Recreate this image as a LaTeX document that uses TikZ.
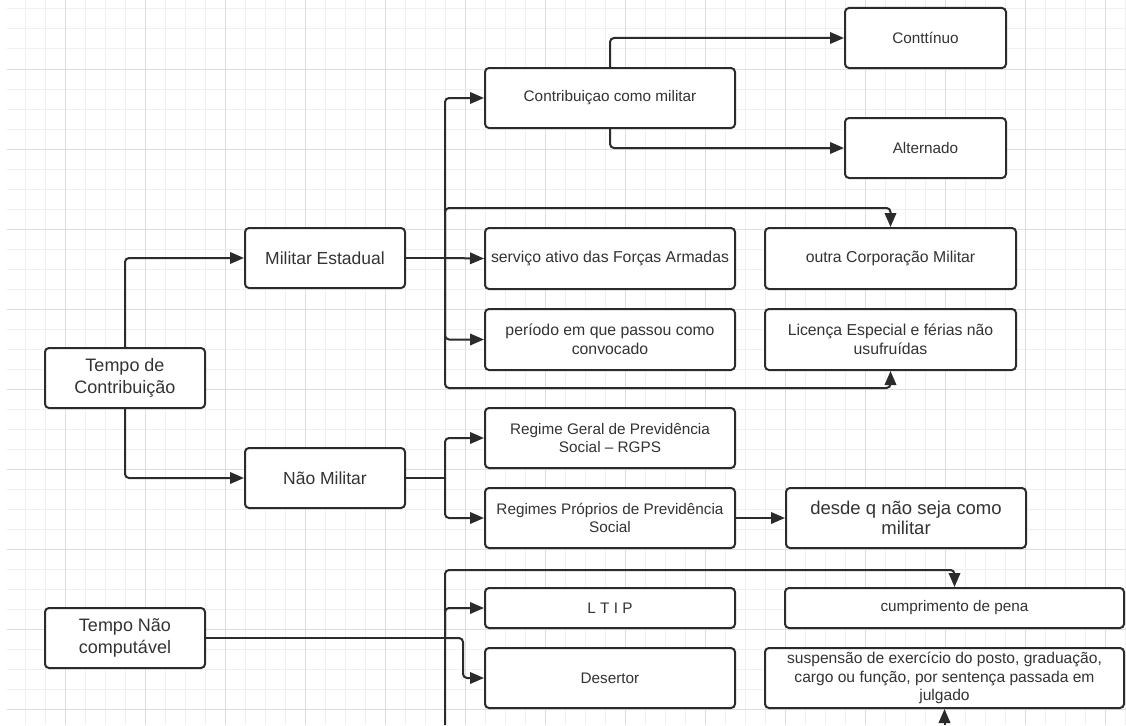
\documentclass[tikz,border=0pt]{standalone}
\usepackage{fontspec}
\setmainfont{Liberation Sans}
\usetikzlibrary{arrows.meta}
\definecolor{ink}{HTML}{2B2B2B}
\definecolor{txt}{HTML}{333333}
\definecolor{gminor}{HTML}{F0F0F0}
\definecolor{gmajor}{HTML}{DEDEDE}
\begin{document}
\begin{tikzpicture}[x=1pt,y=-1pt,
  box/.style={draw=ink, line width=2pt, rounded corners=4pt, fill=white, align=center,
    inner sep=0pt, text=txt, font=\fontsize{15.3}{18.5}\selectfont},
  midbox/.style={box, font=\fontsize{15.8}{18.5}\selectfont},
  bigbox/.style={box, font=\fontsize{18}{22}\selectfont},
  conn/.style={draw=ink, line width=2pt, rounded corners=4pt, -{Triangle[length=14pt,width=11.5pt]}},
  wire/.style={draw=ink, line width=2pt, rounded corners=4pt},
  gmin/.style={draw=gminor, line width=1pt},
  gmaj/.style={draw=gmajor, line width=1pt}]
\useasboundingbox (0,0) rectangle (1126,725);
\fill[white] (0,0) rectangle (1126,725);
% grid
\foreach \x in {25,45,...,1125} \draw[gmin] (\x,0) -- (\x,725);
\foreach \y in {9,29,...,720} \draw[gmin] (7,\y) -- (1126,\y);
\foreach \x in {65,145,...,1125} \draw[gmaj] (\x,0) -- (\x,725);
\foreach \y in {69,149,...,720} \draw[gmaj] (7,\y) -- (1126,\y);

% nodes
\node[bigbox, minimum width=160pt, minimum height=60pt] (tc) at (125,378) {Tempo de\\Contribuição};
\node[box, font=\fontsize{17.5}{20}\selectfont, minimum width=160pt, minimum height=60pt] (me) at (325,258) {Militar Estadual};
\node[box, font=\fontsize{17.5}{20}\selectfont, minimum width=160pt, minimum height=60pt] (nm) at (325,478) {Não Militar};
\node[bigbox, minimum width=160pt, minimum height=60pt] (tn) at (125,638) {Tempo Não\\computável};
\node[box, minimum width=250pt, minimum height=60pt] (cm) at (610,98) {Contribuiçao como militar};
\node[box, minimum width=161pt, minimum height=60pt] (ct) at (925.5,38) {Conttínuo};
\node[box, minimum width=161pt, minimum height=60pt] (al) at (925.5,148) {Alternado};
\node[midbox, minimum width=250pt, minimum height=61pt] (sa) at (610,258.5) {serviço ativo das Forças Armadas};
\node[midbox, minimum width=251pt, minimum height=61pt] (oc) at (890.5,258.5) {outra Corporação Militar};
\node[midbox, minimum width=250pt, minimum height=61pt] (pe) at (610,339.5) {período em que passou como\\convocado};
\node[midbox, minimum width=251pt, minimum height=61pt] (le) at (890.5,339.5) {Licença Especial e férias não\\usufruídas};
\node[box, minimum width=250pt, minimum height=60pt] (rg) at (610,438) {Regime Geral de Previdência\\Social – RGPS};
\node[box, minimum width=250pt, minimum height=60pt] (rp) at (610,518) {Regimes Próprios de Previdência\\Social};
\node[box, font=\fontsize{18.5}{20.5}\selectfont, minimum width=240pt, minimum height=60pt] (dq) at (906,518) {desde q não seja como\\militar};
\node[box, minimum width=250pt, minimum height=40pt] (lt) at (610,608) {L T I P};
\node[box, minimum width=339pt, minimum height=40pt] (cp) at (954.5,608) {cumprimento de pena};
\node[box, minimum width=250pt, minimum height=60pt] (de) at (610,678) {Desertor};
\node[midbox, font=\fontsize{15.6}{18.2}\selectfont, minimum width=359pt, minimum height=60pt] (su) at (944.5,678) {suspensão de exercício do posto, graduação,\\cargo ou função, por sentença passada em\\julgado};

% connectors
\draw[conn] (tc.north) |- (me.west);
\draw[conn] (tc.south) |- (nm.west);

\coordinate (b1) at (445,258);
\draw[wire] (me.east) -- (b1);
\draw[conn] (b1) |- (cm.west);
\draw[conn] (b1) -- (sa.west);
\draw[conn] (b1) |- (pe.west);
\draw[conn] (b1) -- (445,208) -| (oc.north);
\draw[conn] (b1) -- (445,388) -| (le.south);

\draw[conn] (cm.north) |- (ct.west);
\draw[conn] (cm.south) |- (al.west);

\coordinate (b2) at (445,478);
\draw[wire] (nm.east) -- (b2);
\draw[conn] (b2) |- (rg.west);
\draw[conn] (b2) |- (rp.west);
\draw[conn] (rp.east) -- (dq.west);

\coordinate (b3) at (445,638);
\coordinate (bbot) at (445,725);
\draw[wire] (tn.east) -- (b3);
\draw[conn] (bbot) -- (445,570) -| (cp.north);
\draw[conn] (b3) |- (lt.west);
\draw[conn] (b3) -- (463,638) |- (de.west);
\coordinate (sbot) at (su.south |- bbot);
\draw[conn] (sbot) -- (su.south);
\end{tikzpicture}
\end{document}
